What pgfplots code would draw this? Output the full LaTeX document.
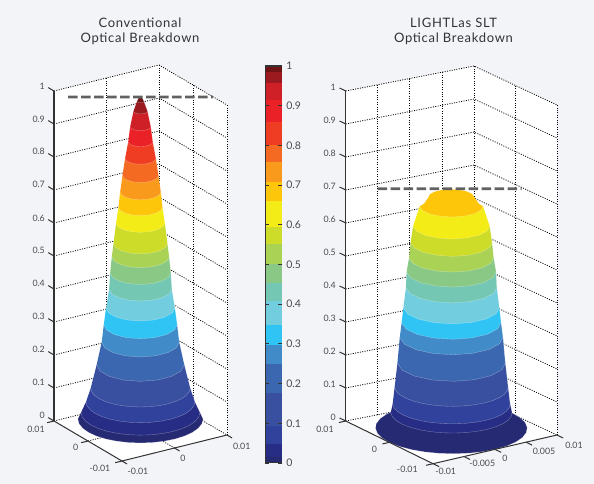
\documentclass[border=0pt]{standalone}
\usepackage{fontspec}
\setmainfont{Lato}
\newfontfamily\titlefont[LetterSpace=5.5]{Lato}
\usepackage{pgfplots}
\pgfplotsset{compat=1.18}
\definecolor{bgc}{HTML}{F3F4F7}
\definecolor{c00}{HTML}{262A73}\definecolor{c01}{HTML}{272C84}\definecolor{c02}{HTML}{30429B}
\definecolor{c03}{HTML}{38509F}\definecolor{c04}{HTML}{3B67B0}\definecolor{c05}{HTML}{418BC9}
\definecolor{c06}{HTML}{2FC4F4}\definecolor{c07}{HTML}{72CEDF}\definecolor{c08}{HTML}{74C7B3}
\definecolor{c09}{HTML}{8AC985}\definecolor{c10}{HTML}{AAD355}\definecolor{c11}{HTML}{CDDC28}
\definecolor{c12}{HTML}{F4EC17}\definecolor{c13}{HTML}{FDC60B}\definecolor{c14}{HTML}{FA9A1C}
\definecolor{c15}{HTML}{F46A22}\definecolor{c16}{HTML}{EE3D23}\definecolor{c17}{HTML}{EA2127}
\definecolor{c18}{HTML}{CF2027}\definecolor{c19}{HTML}{9A1A20}\definecolor{c20}{HTML}{6F1315}
\definecolor{axc}{HTML}{333335}\definecolor{txc}{HTML}{4A4A4D}
\newcommand\band[2]{\addplot3[fill=#1,draw=white,draw opacity=0.4,line width=0.35pt] coordinates {#2};}
\pgfplotsset{threed/.style={hide axis,clip=false,xmin=-10,xmax=10,ymin=-10,ymax=10,zmin=0,zmax=1},
 gl/.style={black,line width=0.8pt,dash pattern=on 1pt off 1.4pt},
 al/.style={axc,line width=1pt},
 zl/.style={axc,line width=1.4pt},
 dl/.style={black!62,line width=2.6pt,dash pattern=on 9.5pt off 3.5pt}}
\begin{document}
\begin{tikzpicture}
\fill[bgc,use as bounding box] (0,0) rectangle (594pt,484pt);
% ---------- left surface
\begin{axis}[threed,at={(140.5pt,56pt)},anchor=origin,x={(5.25pt,1.3pt)},y={(-3.4pt,2pt)},z={(0pt,330pt)}]
\addplot3[fill=white,draw=none] coordinates {(-10,10,0)(-10,-10,0)(10,-10,0)(10,-10,1)(10,10,1)(-10,10,1)};
\pgfplotsinvokeforeach{0,0.1,0.2,0.3,0.4,0.5,0.6,0.7,0.8,0.9,1}{\addplot3[gl] coordinates {(-10,10,#1)(10,10,#1)(10,-10,#1)};}
\pgfplotsinvokeforeach{0,10}{\addplot3[gl] coordinates {(#1,10,0)(#1,10,1)};}
\pgfplotsinvokeforeach{0,-10}{\addplot3[gl] coordinates {(10,#1,0)(10,#1,1)};}
\addplot3[gl] coordinates {(0,-10,0)(0,10,0)};
\addplot3[gl] coordinates {(-10,0,0)(10,0,0)};
\band{c00}{(-8.39,5.45,.027)(-9.29,3.71,.027)(-9.83,1.82,.027)(-10,-.13,.027)(-9.78,-2.08,.027)(-9.19,-3.95,.027)(-8.24,-5.66,.027)(-6.98,-7.16,.027)(-5.45,-8.39,.027)(-3.71,-9.29,.027)(-1.82,-9.83,.027)(.13,-10,.027)(2.08,-9.78,.027)(3.95,-9.19,.027)(5.66,-8.24,.027)(7.16,-6.98,.027)(8.39,-5.45,.027)(7.97,-5.18,.047)(-7.97,5.18,.047)}
\band{c01}{(-7.97,5.18,.047)(-8.83,3.52,.047)(-9.34,1.73,.047)(-9.5,-.12,.047)(-9.29,-1.98,.047)(-8.73,-3.75,.047)(-7.83,-5.38,.047)(-6.63,-6.80,.047)(-5.18,-7.97,.047)(-3.52,-8.83,.047)(-1.73,-9.34,.047)(.12,-9.5,.047)(1.98,-9.29,.047)(3.75,-8.73,.047)(5.38,-7.83,.047)(6.80,-6.63,.047)(7.97,-5.18,.047)(7.30,-4.74,.079)(-7.30,4.74,.079)}
\band{c02}{(-7.30,4.74,.079)(-8.08,3.23,.079)(-8.55,1.58,.079)(-8.7,-.11,.079)(-8.51,-1.81,.079)(-8.00,-3.44,.079)(-7.17,-4.92,.079)(-6.07,-6.23,.079)(-4.74,-7.30,.079)(-3.23,-8.08,.079)(-1.58,-8.55,.079)(.11,-8.7,.079)(1.81,-8.51,.079)(3.44,-8.00,.079)(4.92,-7.17,.079)(6.23,-6.07,.079)(7.30,-4.74,.079)(6.67,-4.33,.121)(-6.67,4.33,.121)}
\band{c03}{(-6.67,4.33,.121)(-7.39,2.95,.121)(-7.81,1.45,.121)(-7.95,-.10,.121)(-7.78,-1.65,.121)(-7.31,-3.14,.121)(-6.55,-4.50,.121)(-5.55,-5.69,.121)(-4.33,-6.67,.121)(-2.95,-7.39,.121)(-1.45,-7.81,.121)(.10,-7.95,.121)(1.65,-7.78,.121)(3.14,-7.31,.121)(4.50,-6.55,.121)(5.69,-5.55,.121)(6.67,-4.33,.121)(5.87,-3.82,.192)(-5.87,3.82,.192)}
\band{c04}{(-5.87,3.82,.192)(-6.88,1.27,.192)(-6.85,-1.46,.192)(-5.77,-3.96,.192)(-3.82,-5.87,.192)(-1.27,-6.88,.192)(1.46,-6.85,.192)(3.96,-5.77,.192)(5.87,-3.82,.192)(5.20,-3.38,.26)(-5.20,3.38,.26)}
\band{c05}{(-5.20,3.38,.26)(-6.09,1.13,.26)(-6.06,-1.29,.26)(-5.11,-3.51,.26)(-3.38,-5.20,.26)(-1.13,-6.09,.26)(1.29,-6.06,.26)(3.51,-5.11,.26)(5.20,-3.38,.26)(4.92,-3.20,.313)(-4.92,3.20,.313)}
\band{c06}{(-4.92,3.20,.313)(-5.77,1.07,.313)(-5.74,-1.22,.313)(-4.84,-3.32,.313)(-3.20,-4.92,.313)(-1.07,-5.77,.313)(1.22,-5.74,.313)(3.32,-4.84,.313)(4.92,-3.20,.313)(4.61,-3.00,.364)(-4.61,3.00,.364)}
\band{c07}{(-4.61,3.00,.364)(-5.41,1.00,.364)(-5.38,-1.14,.364)(-4.53,-3.11,.364)(-3.00,-4.61,.364)(-1.00,-5.41,.364)(1.14,-5.38,.364)(3.11,-4.53,.364)(4.61,-3.00,.364)(4.20,-2.73,.421)(-4.20,2.73,.421)}
\band{c08}{(-4.20,2.73,.421)(-4.92,.91,.421)(-4.89,-1.04,.421)(-4.12,-2.83,.421)(-2.73,-4.20,.421)(-.91,-4.92,.421)(1.04,-4.89,.421)(2.83,-4.12,.421)(4.20,-2.73,.421)(4.07,-2.64,.47)(-4.07,2.64,.47)}
\band{c09}{(-4.07,2.64,.47)(-4.77,.88,.47)(-4.74,-1.01,.47)(-4.00,-2.75,.47)(-2.64,-4.07,.47)(-.88,-4.77,.47)(1.01,-4.74,.47)(2.75,-4.00,.47)(4.07,-2.64,.47)(3.84,-2.50,.519)(-3.84,2.50,.519)}
\band{c10}{(-3.84,2.50,.519)(-4.50,.83,.519)(-4.48,-.95,.519)(-3.77,-2.59,.519)(-2.50,-3.84,.519)(-.83,-4.50,.519)(.95,-4.48,.519)(2.59,-3.77,.519)(3.84,-2.50,.519)(3.62,-2.35,.559)(-3.62,2.35,.559)}
\band{c11}{(-3.62,2.35,.559)(-4.25,.79,.559)(-4.22,-.90,.559)(-3.56,-2.45,.559)(-2.35,-3.62,.559)(-.79,-4.25,.559)(.90,-4.22,.559)(2.45,-3.56,.559)(3.62,-2.35,.559)(3.27,-2.13,.621)(-3.27,2.13,.621)}
\band{c12}{(-3.27,2.13,.621)(-3.83,.71,.621)(-3.81,-.81,.621)(-3.21,-2.21,.621)(-2.13,-3.27,.621)(-.71,-3.83,.621)(.81,-3.81,.621)(2.21,-3.21,.621)(3.27,-2.13,.621)(2.95,-1.92,.669)(-2.95,1.92,.669)}
\band{c13}{(-2.95,1.92,.669)(-3.46,.64,.669)(-3.44,-.73,.669)(-2.90,-1.99,.669)(-1.92,-2.95,.669)(-.64,-3.46,.669)(.73,-3.44,.669)(1.99,-2.90,.669)(2.95,-1.92,.669)(2.73,-1.77,.715)(-2.73,1.77,.715)}
\band{c14}{(-2.73,1.77,.715)(-3.19,.59,.715)(-3.18,-.68,.715)(-2.68,-1.84,.715)(-1.77,-2.73,.715)(-.59,-3.19,.715)(.68,-3.18,.715)(1.84,-2.68,.715)(2.73,-1.77,.715)(2.42,-1.57,.765)(-2.42,1.57,.765)}
\band{c15}{(-2.42,1.57,.765)(-2.83,.52,.765)(-2.82,-.60,.765)(-2.37,-1.63,.765)(-1.57,-2.42,.765)(-.52,-2.83,.765)(.60,-2.82,.765)(1.63,-2.37,.765)(2.42,-1.57,.765)(2.06,-1.34,.817)(-2.06,1.34,.817)}
\band{c16}{(-2.06,1.34,.817)(-2.41,.45,.817)(-2.40,-.51,.817)(-2.02,-1.39,.817)(-1.34,-2.06,.817)(-.45,-2.41,.817)(.51,-2.40,.817)(1.39,-2.02,.817)(2.06,-1.34,.817)(1.65,-1.07,.867)(-1.65,1.07,.867)}
\band{c17}{(-1.65,1.07,.867)(-1.94,.36,.867)(-1.93,-.41,.867)(-1.62,-1.12,.867)(-1.07,-1.65,.867)(-.36,-1.94,.867)(.41,-1.93,.867)(1.12,-1.62,.867)(1.65,-1.07,.867)(1.38,-.90,.913)(-1.38,.90,.913)}
\band{c18}{(-1.38,.90,.913)(-1.62,.30,.913)(-1.61,-.34,.913)(-1.36,-.93,.913)(-.90,-1.38,.913)(-.30,-1.62,.913)(.34,-1.61,.913)(.93,-1.36,.913)(1.38,-.90,.913)(.94,-.61,.96)(-.94,.61,.96)}
\band{c19}{(-.94,.61,.96)(-1.10,.20,.96)(-1.10,-.23,.96)(-.92,-.63,.96)(-.61,-.94,.96)(-.20,-1.10,.96)(.23,-1.10,.96)(.63,-.92,.96)(.94,-.61,.96)(.46,-.30,.99)(-.46,.30,.99)}
\band{c20}{(-.46,.30,.99)(-.54,.10,.99)(-.54,-.11,.99)(-.45,-.31,.99)(-.30,-.46,.99)(-.10,-.54,.99)(.11,-.54,.99)(.31,-.45,.99)(.46,-.30,.99)(.25,-.16,1)(.29,.06,1)(.16,.25,1)(-.06,.29,1)(-.25,.16,1)}
\addplot3[dl] coordinates {(-9.71,6.31,1.003)(9.71,-6.31,1.003)};
\addplot3[zl] coordinates {(-10,10,0)(-10,10,1)};
\addplot3[al] coordinates {(-10,10,0)(-10,-10,0)(10,-10,0)};
\pgfplotsinvokeforeach{0,0.1,0.2,0.3,0.4,0.5,0.6,0.7,0.8,0.9,1}{\addplot3[al] coordinates {(-10,10,#1)(-10,11.7,#1)};}
\pgfplotsinvokeforeach{-10,0,10}{\addplot3[al] coordinates {(#1,-10,0)(#1,-11.5,0)};}
\pgfplotsinvokeforeach{-10,0,10}{\addplot3[al] coordinates {(-10,#1,0)(-11.3,#1,0)};}
\end{axis}
% ---------- right surface
\begin{axis}[threed,at={(451.35pt,56pt)},anchor=origin,x={(6.2pt,1.435pt)},y={(-4.365pt,2.135pt)},z={(0pt,330pt)}]
\addplot3[fill=white,draw=none] coordinates {(-10,10,0)(-10,-10,0)(10,-10,0)(10,-10,1)(9.64,8.5,1)(-10,10,1)};
\pgfplotsinvokeforeach{0,0.1,0.2,0.3,0.4,0.5,0.6,0.7,0.8,0.9,1}{\addplot3[gl] coordinates {(-10,10,#1)(9.64,8.5,#1)(10,-10,#1)};}
\addplot3[gl] coordinates {(-5.09,9.63,0)(-5.09,9.63,1)};
\addplot3[gl] coordinates {(-.18,9.25,0)(-.18,9.25,1)};
\addplot3[gl] coordinates {(4.73,8.88,0)(4.73,8.88,1)};
\addplot3[gl] coordinates {(9.64,8.5,0)(9.64,8.5,1)};
\addplot3[gl] coordinates {(9.82,-.75,0)(9.82,-.75,1)};
\addplot3[gl] coordinates {(10,-10,0)(10,-10,1)};
\addplot3[gl] coordinates {(0,-10,0)(0,9.25,0)};
\addplot3[gl] coordinates {(-10,0,0)(9.82,-.75,0)};
\band{c00}{(-8.39,5.45,0)(-9.29,3.71,0)(-9.83,1.82,0)(-10,-.13,0)(-9.78,-2.08,0)(-9.19,-3.95,0)(-8.24,-5.66,0)(-6.98,-7.16,0)(-5.45,-8.39,0)(-3.71,-9.29,0)(-1.82,-9.83,0)(.13,-10,0)(2.08,-9.78,0)(3.95,-9.19,0)(5.66,-8.24,0)(7.16,-6.98,0)(8.39,-5.45,0)(9.29,-3.71,0)(9.83,-1.82,0)(10,.13,0)(9.78,2.08,0)(9.19,3.95,0)(8.24,5.66,0)(6.98,7.16,0)(5.45,8.39,0)(3.71,9.29,0)(1.82,9.83,0)(-.13,10,0)(-2.08,9.78,0)(-3.95,9.19,0)(-5.66,8.24,0)(-7.16,6.98,0)}
\band{c01}{(-6.71,4.36,.047)(-7.43,2.97,.047)(-7.86,1.46,.047)(-8,-.10,.047)(-7.82,-1.66,.047)(-7.35,-3.16,.047)(-6.59,-4.53,.047)(-5.58,-5.73,.047)(-4.36,-6.71,.047)(-2.97,-7.43,.047)(-1.46,-7.86,.047)(.10,-8,.047)(1.66,-7.82,.047)(3.16,-7.35,.047)(4.53,-6.59,.047)(5.73,-5.58,.047)(6.71,-4.36,.047)(6.50,-4.22,.073)(-6.50,4.22,.073)}
\band{c02}{(-6.50,4.22,.073)(-7.20,2.88,.073)(-7.62,1.41,.073)(-7.75,-.10,.073)(-7.58,-1.61,.073)(-7.12,-3.06,.073)(-6.39,-4.39,.073)(-5.41,-5.55,.073)(-4.22,-6.50,.073)(-2.88,-7.20,.073)(-1.41,-7.62,.073)(.10,-7.75,.073)(1.61,-7.58,.073)(3.06,-7.12,.073)(4.39,-6.39,.073)(5.55,-5.41,.073)(6.50,-4.22,.073)(6.28,-4.08,.124)(-6.28,4.08,.124)}
\band{c03}{(-6.28,4.08,.124)(-6.95,2.78,.124)(-7.35,1.36,.124)(-7.48,-.10,.124)(-7.32,-1.56,.124)(-6.87,-2.95,.124)(-6.16,-4.23,.124)(-5.22,-5.36,.124)(-4.08,-6.28,.124)(-2.78,-6.95,.124)(-1.36,-7.35,.124)(.10,-7.48,.124)(1.56,-7.32,.124)(2.95,-6.87,.124)(4.23,-6.16,.124)(5.36,-5.22,.124)(6.28,-4.08,.124)(5.97,-3.88,.197)(-5.97,3.88,.197)}
\band{c04}{(-5.97,3.88,.197)(-7.00,1.30,.197)(-6.96,-1.48,.197)(-5.87,-4.03,.197)(-3.88,-5.97,.197)(-1.30,-7.00,.197)(1.48,-6.96,.197)(4.03,-5.87,.197)(5.97,-3.88,.197)(5.71,-3.71,.275)(-5.71,3.71,.275)}
\band{c05}{(-5.71,3.71,.275)(-6.68,1.24,.275)(-6.65,-1.41,.275)(-5.60,-3.85,.275)(-3.71,-5.71,.275)(-1.24,-6.68,.275)(1.41,-6.65,.275)(3.85,-5.60,.275)(5.71,-3.71,.275)(5.50,-3.57,.32)(-5.50,3.57,.32)}
\band{c06}{(-5.50,3.57,.32)(-6.44,1.19,.32)(-6.41,-1.36,.32)(-5.40,-3.71,.32)(-3.57,-5.50,.32)(-1.19,-6.44,.32)(1.36,-6.41,.32)(3.71,-5.40,.32)(5.50,-3.57,.32)(5.31,-3.45,.365)(-5.31,3.45,.365)}
\band{c07}{(-5.31,3.45,.365)(-6.22,1.15,.365)(-6.19,-1.32,.365)(-5.22,-3.58,.365)(-3.45,-5.31,.365)(-1.15,-6.22,.365)(1.32,-6.19,.365)(3.58,-5.22,.365)(5.31,-3.45,.365)(5.03,-3.27,.426)(-5.03,3.27,.426)}
\band{c08}{(-5.03,3.27,.426)(-5.90,1.09,.426)(-5.87,-1.25,.426)(-4.94,-3.40,.426)(-3.27,-5.03,.426)(-1.09,-5.90,.426)(1.25,-5.87,.426)(3.40,-4.94,.426)(5.03,-3.27,.426)(4.95,-3.22,.473)(-4.95,3.22,.473)}
\band{c09}{(-4.95,3.22,.473)(-5.80,1.07,.473)(-5.77,-1.23,.473)(-4.86,-3.34,.473)(-3.22,-4.95,.473)(-1.07,-5.80,.473)(1.23,-5.77,.473)(3.34,-4.86,.473)(4.95,-3.22,.473)(4.68,-3.04,.516)(-4.68,3.04,.516)}
\band{c10}{(-4.68,3.04,.516)(-5.49,1.02,.516)(-5.46,-1.16,.516)(-4.60,-3.16,.516)(-3.04,-4.68,.516)(-1.02,-5.49,.516)(1.16,-5.46,.516)(3.16,-4.60,.516)(4.68,-3.04,.516)(4.51,-2.93,.562)(-4.51,2.93,.562)}
\band{c11}{(-4.51,2.93,.562)(-5.28,.98,.562)(-5.25,-1.12,.562)(-4.42,-3.04,.562)(-2.93,-4.51,.562)(-.98,-5.28,.562)(1.12,-5.25,.562)(3.04,-4.42,.562)(4.51,-2.93,.562)(4.24,-2.75,.612)(-4.24,2.75,.612)}
\band{c12}{(-4.24,2.75,.612)(-4.96,.92,.612)(-4.94,-1.05,.612)(-4.16,-2.86,.612)(-2.75,-4.24,.612)(-.92,-4.96,.612)(1.05,-4.94,.612)(2.86,-4.16,.612)(4.24,-2.75,.612)(3.51,-2.28,.672)(-3.51,2.28,.672)}
\band{c13}{(-3.51,2.28,.672)(-4.11,.76,.672)(-4.09,-.87,.672)(-3.44,-2.37,.672)(-2.28,-3.51,.672)(-.76,-4.11,.672)(.87,-4.09,.672)(2.37,-3.44,.672)(3.51,-2.28,.672)(3.02,-1.96,.68)(-3.02,1.96,.68)}
\addplot3[fill=c13,draw=none] coordinates {(-3.02,1.96,.68)(-3.54,.66,.68)(-3.52,-.75,.68)(-2.97,-2.04,.68)(-1.96,-3.02,.68)(-.66,-3.54,.68)(.75,-3.52,.68)(2.04,-2.97,.68)(3.02,-1.96,.68)(2.52,-1.64,.70)(2.95,-.55,.70)(2.93,.62,.70)(2.47,1.70,.70)(1.64,2.52,.70)(.55,2.95,.70)(-.62,2.93,.70)(-1.70,2.47,.70)(-2.52,1.64,.70)};
\addplot3[dl] coordinates {(-8.06,5.42,.725)(7.70,-5.18,.725)};
\addplot3[zl] coordinates {(-10,10,0)(-10,10,1)};
\addplot3[al] coordinates {(-10,10,0)(-10,-10,0)(10,-10,0)};
\pgfplotsinvokeforeach{0,0.1,0.2,0.3,0.4,0.5,0.6,0.7,0.8,0.9,1}{\addplot3[al] coordinates {(-10,10,#1)(-10,11.4,#1)};}
\pgfplotsinvokeforeach{-10,-5,0,5,10}{\addplot3[al] coordinates {(#1,-10,0)(#1,-11.4,0)};}
\pgfplotsinvokeforeach{-10,0,10}{\addplot3[al] coordinates {(-10,#1,0)(-11.1,#1,0)};}
\end{axis}
% ---------- colour bar
\begin{axis}[at={(265pt,21pt)},anchor=south west,scale only axis,width=17.3pt,height=397pt,
 xmin=0,xmax=1,ymin=0,ymax=1,xtick=\empty,axis on top,axis line style={draw=none},
 ytick={0,0.1,0.2,0.3,0.4,0.5,0.6,0.7,0.8,0.9,1},
 yticklabels={0,0.1,0.2,0.3,0.4,0.5,0.6,0.7,0.8,0.9,1},
 yticklabel pos=right,tick align=inside,major tick length=4pt,
 tick style={axc,line width=0.9pt},
 yticklabel style={font=\fontsize{10.5}{12}\selectfont,text=txc,xshift=0.5pt}]
\addplot[fill=c00,draw=none] coordinates {(0,0)(1,0)(1,.015)(0,.015)};
\addplot[fill=c01,draw=none] coordinates {(0,.015)(1,.015)(1,.049)(0,.049)};
\addplot[fill=c02,draw=none] coordinates {(0,.049)(1,.049)(1,.093)(0,.093)};
\addplot[fill=c03,draw=none] coordinates {(0,.093)(1,.093)(1,.177)(0,.177)};
\addplot[fill=c04,draw=none] coordinates {(0,.177)(1,.177)(1,.25)(0,.25)};
\addplot[fill=c05,draw=none] coordinates {(0,.25)(1,.25)(1,.298)(0,.298)};
\addplot[fill=c06,draw=none] coordinates {(0,.298)(1,.298)(1,.348)(0,.348)};
\addplot[fill=c07,draw=none] coordinates {(0,.348)(1,.348)(1,.407)(0,.407)};
\addplot[fill=c08,draw=none] coordinates {(0,.407)(1,.407)(1,.454)(0,.454)};
\addplot[fill=c09,draw=none] coordinates {(0,.454)(1,.454)(1,.502)(0,.502)};
\addplot[fill=c10,draw=none] coordinates {(0,.502)(1,.502)(1,.552)(0,.552)};
\addplot[fill=c11,draw=none] coordinates {(0,.552)(1,.552)(1,.595)(0,.595)};
\addplot[fill=c12,draw=none] coordinates {(0,.595)(1,.595)(1,.66)(0,.66)};
\addplot[fill=c13,draw=none] coordinates {(0,.66)(1,.66)(1,.709)(0,.709)};
\addplot[fill=c14,draw=none] coordinates {(0,.709)(1,.709)(1,.759)(0,.759)};
\addplot[fill=c15,draw=none] coordinates {(0,.759)(1,.759)(1,.801)(0,.801)};
\addplot[fill=c16,draw=none] coordinates {(0,.801)(1,.801)(1,.858)(0,.858)};
\addplot[fill=c17,draw=none] coordinates {(0,.858)(1,.858)(1,.914)(0,.914)};
\addplot[fill=c18,draw=none] coordinates {(0,.914)(1,.914)(1,.958)(0,.958)};
\addplot[fill=c19,draw=none] coordinates {(0,.958)(1,.958)(1,.984)(0,.984)};
\addplot[fill=c20,draw=none] coordinates {(0,.984)(1,.984)(1,1)(0,1)};
\addplot[axc,line width=1.1pt] coordinates {(1,0)(0,0)(0,1)(1,1)};
\end{axis}
% ---------- text
\begin{scope}[x=1pt,y=-1pt,yshift=484pt,every node/.style={inner sep=0pt,text=txc,font=\fontsize{8.8}{10}\selectfont}]
\node[font=\titlefont\fontsize{13}{15}\selectfont,text=axc] at (140,22.5) {Conventional};
\node[font=\titlefont\fontsize{13}{15}\selectfont,text=axc] at (140,38.5) {Optical Breakdown};
\node[font=\titlefont\fontsize{13}{15}\selectfont,text=axc] at (453.5,22.5) {LIGHTLas SLT};
\node[font=\titlefont\fontsize{13}{15}\selectfont,text=axc] at (453.5,38.5) {Optical Breakdown};
\node[anchor=east] at (45,86) {1};\node[anchor=east] at (45,119) {0.9};\node[anchor=east] at (45,151.7) {0.8};
\node[anchor=east] at (45,184.7) {0.7};\node[anchor=east] at (45,218) {0.6};\node[anchor=east] at (45,250) {0.5};
\node[anchor=east] at (45,283.7) {0.4};\node[anchor=east] at (45,316.5) {0.3};\node[anchor=east] at (45,349.7) {0.2};
\node[anchor=east] at (45,382) {0.1};\node[anchor=east] at (45,415) {0};
\node at (36,429.3) {0.01};\node at (75.7,447.7) {0};\node at (100,468.7) {-0.01};
\node at (138,471.3) {-0.01};\node at (183,458.7) {0};\node at (241.7,446.3) {0.01};
\node[anchor=east] at (336,87.7) {1};\node[anchor=east] at (336,120.5) {0.9};\node[anchor=east] at (336,153.7) {0.8};
\node[anchor=east] at (336,186.7) {0.7};\node[anchor=east] at (336,219.7) {0.6};\node[anchor=east] at (336,252.3) {0.5};
\node[anchor=east] at (336,285.7) {0.4};\node[anchor=east] at (336,318.7) {0.3};\node[anchor=east] at (336,351.7) {0.2};
\node[anchor=east] at (336,384.7) {0.1};\node[anchor=east] at (336,417.5) {0};
\node at (325,429.3) {0.01};\node at (374.3,449.3) {0};\node at (407.3,469.3) {-0.01};
\node at (445.7,471.3) {-0.01};\node at (482.3,463.7) {-0.005};\node at (505,458.7) {0};\node at (544,451.3) {0.005};\node at (574,445.3) {0.01};
\end{scope}
\end{tikzpicture}
\end{document}
